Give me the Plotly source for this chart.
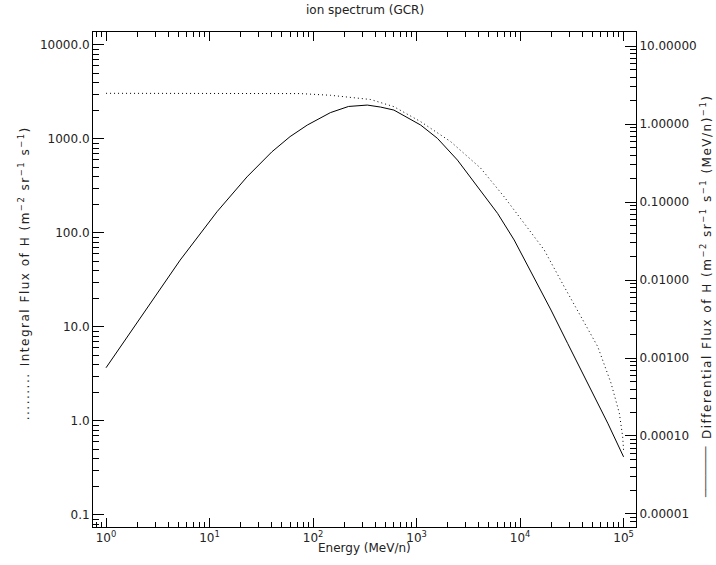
import plotly.graph_objects as go

# Differential flux (right axis)
energy_diff = [1.0, 2.0, 3.84, 5.2, 11.8, 23, 40, 60, 88, 147, 220, 334, 449, 604,
               1096, 1589, 2483, 3880, 6060, 8770, 12500, 19900, 28800, 45000, 70300, 100000]
flux_diff = [7.5e-4, 2.9e-3, 1.0e-2, 1.8e-2, 0.075, 0.21, 0.44, 0.69, 0.97, 1.40, 1.68, 1.75, 1.65, 1.51,
             0.97, 0.656, 0.345, 0.157, 0.0716, 0.0326, 0.0135, 4.12e-3, 1.54e-3, 4.74e-4, 1.46e-4, 5.4e-5]

# Integral flux (left axis)
energy_int = [1.0, 8, 30, 75, 147, 360, 604, 1096, 2138, 4170, 7010, 12200, 17100,
              26700, 38800, 56300, 75700, 91000, 98000, 100000]
flux_int = [3060, 3060, 3060, 3040, 2917, 2630, 2206, 1528, 936, 488, 243, 108, 66,
            26.8, 12.9, 6.17, 2.52, 1.21, 0.68, 0.49]

x_tickvals = [1, 10, 100, 1000, 10000, 100000]
x_ticktext = ["10<sup>0</sup>", "10<sup>1</sup>", "10<sup>2</sup>", "10<sup>3</sup>", "10<sup>4</sup>", "10<sup>5</sup>"]
yl_tickvals = [0.1, 1, 10, 100, 1000, 10000]
yl_ticktext = ["0.1", "1.0", "10.0", "100.0", "1000.0", "10000.0"]
yr_tickvals = [1e-5, 1e-4, 1e-3, 1e-2, 1e-1, 1, 10]
yr_ticktext = ["0.00001", "0.00010", "0.00100", "0.01000", "0.10000", "1.00000", "10.00000"]


def minors(lo_exp, hi_exp):
    vals = []
    for e in range(lo_exp, hi_exp + 1):
        for m in range(2, 10):
            vals.append(m * 10.0 ** e)
    return vals


INK = "#222222"
FONT = dict(family="DejaVu Sans", size=12, color=INK)

fig = go.Figure()
fig.add_trace(go.Scatter(x=energy_int, y=flux_int, mode="lines",
                         line=dict(color="black", width=1, dash="1px,3px"),
                         yaxis="y", showlegend=False))
fig.add_trace(go.Scatter(x=energy_diff, y=flux_diff, mode="lines",
                         line=dict(color="black", width=1),
                         yaxis="y2", showlegend=False))

axis_common = dict(type="log", showgrid=False, zeroline=False, showline=True,
                   linecolor="black", linewidth=1, ticks="inside", tickcolor="black",
                   tickfont=FONT, tickmode="array", automargin=False)

fig.update_layout(
    width=716, height=565,
    margin=dict(l=93, r=80, t=32, b=38),
    paper_bgcolor="white", plot_bgcolor="white",
    font=FONT,
    xaxis=dict(**axis_common, range=[-0.126, 5.12], tickvals=x_tickvals, ticktext=x_ticktext,
               ticklen=9, mirror="ticks",
               minor=dict(tickmode="array", tickvals=minors(-1, 5), ticks="inside",
                          ticklen=5, tickcolor="black", showgrid=False)),
    yaxis=dict(**axis_common, range=[-1.128, 4.138], tickvals=yl_tickvals, ticktext=yl_ticktext,
               ticklen=11,
               minor=dict(tickmode="array", tickvals=minors(-2, 4), ticks="inside",
                          ticklen=6, tickcolor="black", showgrid=False)),
    yaxis2=dict(**axis_common, range=[-5.167, 1.18], tickvals=yr_tickvals, ticktext=yr_ticktext,
                ticklen=11, overlaying="y", side="right",
                minor=dict(tickmode="array", tickvals=minors(-6, 1), ticks="inside",
                           ticklen=6, tickcolor="black", showgrid=False)),
    annotations=[
        dict(text="ion spectrum (GCR)", xref="paper", yref="paper", x=0.5, y=1.044,
             xanchor="center", yanchor="middle", showarrow=False, font=FONT),
        dict(text="Energy (MeV/n)", xref="paper", yref="paper", x=0.5, y=-0.0424,
             xanchor="center", yanchor="middle", showarrow=False, font=FONT),
        dict(text=".........", xref="paper", yref="paper", x=-0.127, y=0.2636, textangle=-90,
             xanchor="center", yanchor="middle", showarrow=False, font=FONT),
        dict(text="Integral Flux of H (m<sup>−2</sup> sr<sup>−1</sup> s<sup>−1</sup>)",
             xref="paper", yref="paper", x=-0.127, y=0.5667, textangle=-90,
             xanchor="center", yanchor="middle", showarrow=False, font=FONT),
        dict(text="───────", xref="paper", yref="paper", x=1.129, y=0.111, textangle=-90,
             xanchor="center", yanchor="middle", showarrow=False,
             font=dict(family="DejaVu Sans", size=12, color="#555555")),
        dict(text="Differential Flux of H (m<sup>−2</sup> sr<sup>−1</sup> s<sup>−1</sup> (MeV/n)<sup>−1</sup>)",
             xref="paper", yref="paper", x=1.129, y=0.526, textangle=-90,
             xanchor="center", yanchor="middle", showarrow=False, font=FONT),
    ],
)

post = (
    "document.body.style.margin='0px';document.body.style.overflow='hidden';"
    "document.querySelectorAll('.annotation-text').forEach(function(t){"
    "var s=t.textContent;"
    "if(s.indexOf('Flux')>=0||s.indexOf('...')===0){t.style.letterSpacing='1.5px';}"
    "});"
)

fig.write_html("out.html", config={"displayModeBar": False}, post_script=post)
